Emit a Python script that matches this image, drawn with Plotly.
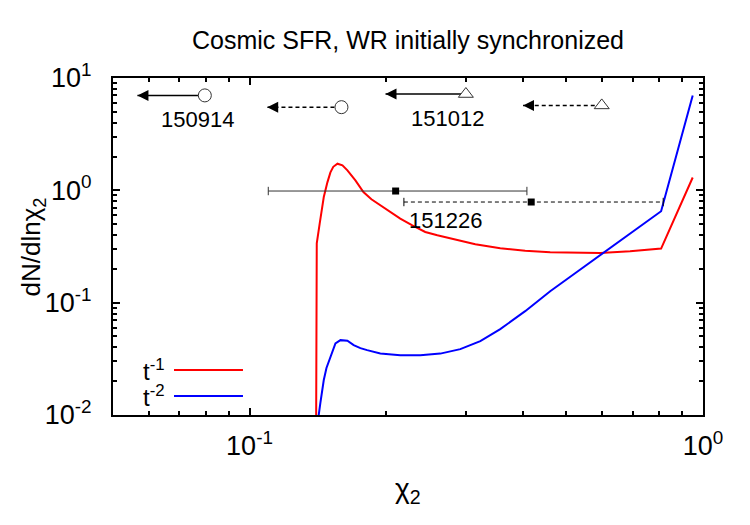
import numpy as np
import plotly.graph_objects as go

# ---------------- data ----------------
red_x = [0.1402, 0.1404, 0.1405, 0.1407, 0.1428, 0.1458, 0.1485, 0.1508, 0.1530, 0.1563,
         0.1603, 0.1644, 0.1712, 0.1783, 0.1857, 0.1943, 0.2044, 0.2150, 0.2286, 0.2441,
         0.2595, 0.2772, 0.3147, 0.3572, 0.4054, 0.4603, 0.5224, 0.5930, 0.6906, 0.8084,
         0.9491]
red_y = [0.005, 0.03, 0.105, 0.337, 0.505, 0.872, 1.178, 1.445, 1.62, 1.727,
         1.668, 1.506, 1.227, 0.966, 0.832, 0.736, 0.637, 0.560, 0.4885, 0.426,
         0.398, 0.374, 0.331, 0.305, 0.290, 0.281, 0.277, 0.277, 0.287, 0.303,
         1.30]

blue_x = [0.1418, 0.1421, 0.1433, 0.1458, 0.1478, 0.1508, 0.1547, 0.1587, 0.1644, 0.1697,
          0.1756, 0.1817, 0.1943, 0.2150, 0.2380, 0.2635, 0.2916, 0.3228, 0.3572, 0.4054,
          0.4603, 0.5224, 0.5930, 0.8084, 0.9491]
blue_y = [0.005, 0.010, 0.0128, 0.0205, 0.0262, 0.033, 0.0434, 0.0464, 0.0459, 0.0419,
          0.0394, 0.0378, 0.0353, 0.0341, 0.0341, 0.0352, 0.0386, 0.0455, 0.0581, 0.0840,
          0.1265, 0.1829, 0.2644, 0.651, 6.99]

# upper-limit arrows (start marker -> arrow tip)
arrow_start = [0.0797, 0.1595, 0.300, 0.598]
arrow_tip = [0.0566, 0.1094, 0.1995, 0.401]
arrow_y = [7.0, 5.5, 7.2, 5.7]
arrow_symbol = ["circle", "circle", "triangle-up", "triangle-up"]
arrow_dash = ["solid", "4px,3px", "solid", "4px,3px"]

# error bars
eb_center = [0.210, 0.418]
eb_low = [0.110, 0.219]
eb_high = [0.409, 0.817]
eb_y = [0.986, 0.787]
eb_dash = ["solid", "4px,3px"]
eb_color = ["#333333", "#000000"]

# event labels
ev_names = ["150914", "151012", "151226"]
ev_x = [0.0768, 0.2726, 0.2704]
ev_y = [4.25, 4.34, 0.541]

# axis ticks
x_major = [0.1, 1.0]
x_major_text = ["10<sup>-1</sup>", "10<sup>0</sup>"]
x_minor = [0.06, 0.07, 0.08, 0.09, 0.2, 0.3, 0.4, 0.5, 0.6, 0.7, 0.8, 0.9]
y_major = [0.01, 0.1, 1.0, 10.0]
y_major_text = ["10<sup>-2</sup>", "10<sup>-1</sup>", "10<sup>0</sup>", "10<sup>1</sup>"]
y_minor = [m * d for d in (0.01, 0.1, 1.0) for m in range(2, 10)]

FONT = "Liberation Sans, Arial, Helvetica, sans-serif"

fig = go.Figure()

fig.add_trace(go.Scatter(x=red_x, y=red_y, mode="lines",
                         line=dict(color="#ff0000", width=2), showlegend=False))
fig.add_trace(go.Scatter(x=blue_x, y=blue_y, mode="lines",
                         line=dict(color="#0000ff", width=2), showlegend=False))

# error bars
for c, lo, hi, yv, dsh, col in zip(eb_center, eb_low, eb_high, eb_y, eb_dash, eb_color):
    fig.add_trace(go.Scatter(x=[lo, hi], y=[yv, yv], mode="lines+markers",
                             line=dict(color=col, width=1, dash=dsh),
                             marker=dict(symbol="line-ns-open", size=6,
                                         line=dict(color=col, width=1)),
                             showlegend=False))
    fig.add_trace(go.Scatter(x=[c], y=[yv], mode="markers",
                             marker=dict(symbol="square", size=7, color="black"),
                             showlegend=False))

# arrows
for s, t, yv, sym, dsh in zip(arrow_start, arrow_tip, arrow_y, arrow_symbol, arrow_dash):
    fig.add_trace(go.Scatter(x=[s, t], y=[yv, yv], mode="lines",
                             line=dict(color="black", width=1.5, dash=dsh),
                             showlegend=False))
    fig.add_trace(go.Scatter(x=[s], y=[yv], mode="markers",
                             marker=dict(symbol=sym, size=13, color="white",
                                         line=dict(color="#333333", width=1)),
                             showlegend=False))
    fig.add_trace(go.Scatter(x=[t], y=[yv], mode="markers",
                             marker=dict(symbol="arrow-left", size=11, color="black",
                                         line=dict(width=0)),
                             showlegend=False))

annotations = []
for name, xv, yv in zip(ev_names, ev_x, ev_y):
    annotations.append(dict(x=np.log10(xv), y=np.log10(yv), xref="x", yref="y",
                            text=name, showarrow=False,
                            font=dict(family=FONT, size=22, color="black")))

# axis titles
annotations.append(dict(x=0.5, y=-0.2226, xref="paper", yref="paper",
                        text="χ<sub>2</sub>", showarrow=False,
                        xanchor="center", yanchor="middle",
                        font=dict(family=FONT, size=28, color="black")))
annotations.append(dict(x=-0.1356, y=0.5, xref="paper", yref="paper",
                        text="dN/dlnχ<sub>2</sub>", showarrow=False, textangle=-90,
                        xanchor="center", yanchor="middle",
                        font=dict(family=FONT, size=26, color="black")))

# manual legend (text to the left of the line sample)
legend_labels = ["t<sup>-1</sup>", "t<sup>-2</sup>"]
legend_colors = ["#ff0000", "#0000ff"]
legend_ypos = [0.1335, 0.0564]
shapes = []
for lab, col, yp in zip(legend_labels, legend_colors, legend_ypos):
    annotations.append(dict(x=0.0915, y=yp, xref="paper", yref="paper", text=lab,
                            showarrow=False, xanchor="right", yanchor="middle",
                            font=dict(family=FONT, size=24, color="black")))
    shapes.append(dict(type="line", xref="paper", yref="paper",
                       x0=0.1034, x1=0.2203, y0=yp, y1=yp,
                       line=dict(color=col, width=2)))

axis_common = dict(type="log", showline=True, linecolor="black", linewidth=2,
                   mirror="allticks", ticks="inside", ticklen=7, tickwidth=1.5,
                   tickcolor="black", showgrid=False, zeroline=False,
                   tickfont=dict(family=FONT, size=27, color="black"))

fig.update_layout(
    width=750, height=525,
    margin=dict(l=113, r=47, t=78, b=110),
    paper_bgcolor="white", plot_bgcolor="white",
    showlegend=False,
    title=dict(text="Cosmic SFR, WR initially synchronized", x=0.544, xanchor="center",
               y=1 - 40 / 525, yanchor="middle",
               font=dict(family=FONT, size=25, color="black")),
    xaxis=dict(axis_common, range=[np.log10(0.05), 0], tickmode="array",
               tickvals=x_major, ticktext=x_major_text, ticklabelstandoff=6,
               minor=dict(tickmode="array", tickvals=x_minor, ticks="inside",
                          ticklen=4, tickwidth=1.5, tickcolor="black", showgrid=False)),
    yaxis=dict(axis_common, range=[-2, 1], tickmode="array",
               tickvals=y_major, ticktext=y_major_text, ticklabelstandoff=14,
               minor=dict(tickmode="array", tickvals=y_minor, ticks="inside",
                          ticklen=4, tickwidth=1.5, tickcolor="black", showgrid=False)),
    annotations=annotations,
    shapes=shapes,
)

fig.write_html("out.html")
